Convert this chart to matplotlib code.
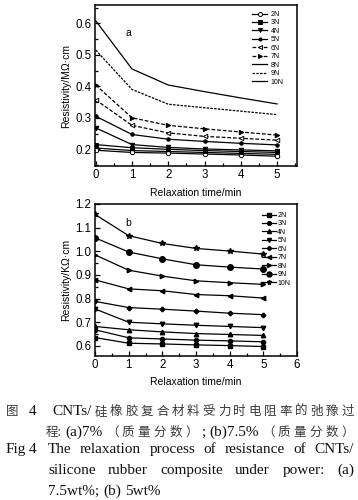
import matplotlib
matplotlib.use("Agg")
import matplotlib.pyplot as plt
from matplotlib.ticker import MultipleLocator

W, H = 358, 500
plt.rcParams['font.family'] = ['Liberation Sans', 'DejaVu Sans']

# ---------------- data ----------------
time = [0, 1, 2, 3, 4, 5]
labels = ['2N', '3N', '4N', '5N', '6N', '7N', '8N', '9N', '10N']

a_2N = [0.197, 0.190, 0.188, 0.185, 0.182, 0.178]
a_3N = [0.215, 0.205, 0.200, 0.196, 0.193, 0.190]
a_4N = [0.268, 0.215, 0.206, 0.201, 0.198, 0.195]
a_5N = [0.305, 0.247, 0.232, 0.225, 0.219, 0.214]
a_6N = [0.357, 0.276, 0.252, 0.241, 0.235, 0.229]
a_7N = [0.404, 0.300, 0.276, 0.265, 0.255, 0.245]
a_8N = [0.204, 0.196, 0.193, 0.190, 0.187, 0.184]
a_9N = [0.515, 0.390, 0.343, 0.332, 0.321, 0.310]
a_10N = [0.608, 0.455, 0.404, 0.383, 0.363, 0.344]

b_2N = [0.635, 0.611, 0.608, 0.604, 0.601, 0.597]
b_3N = [0.668, 0.634, 0.629, 0.624, 0.621, 0.617]
b_4N = [0.682, 0.668, 0.659, 0.652, 0.648, 0.644]
b_5N = [0.756, 0.700, 0.693, 0.687, 0.682, 0.677]
b_6N = [0.788, 0.762, 0.755, 0.747, 0.738, 0.732]
b_7N = [0.879, 0.841, 0.833, 0.817, 0.812, 0.802]
b_8N = [0.985, 0.920, 0.895, 0.875, 0.867, 0.860]
b_9N = [1.057, 0.997, 0.968, 0.943, 0.933, 0.925]
b_10N = [1.156, 1.066, 1.033, 1.012, 1.001, 0.988]

a_series = [a_2N, a_3N, a_4N, a_5N, a_6N, a_7N, a_8N, a_9N, a_10N]
b_series = [b_2N, b_3N, b_4N, b_5N, b_6N, b_7N, b_8N, b_9N, b_10N]

# ---------------- styles ----------------
a_styles = [
    dict(marker='o', mfc='white', ls='-'),
    dict(marker='s', mfc='black', ls='-'),
    dict(marker='v', mfc='black', ls='-'),
    dict(marker='o', mfc='black', ls='-', ms=2.5),
    dict(marker='<', mfc='white', ls=(0, (3, 1.5))),
    dict(marker='>', mfc='black', ls=(0, (3, 1.5))),
    dict(marker='None', ls='-'),
    dict(marker='None', ls=(0, (2, 1))),
    dict(marker='None', ls='-'),
]
b_markers = ['s', 'o', '^', 'v', 'P', '<', '>', 'o', '*']
b_sizes = [3, 3, 3.2, 3.2, 3, 3.2, 3.2, 4, 4]

fig = plt.figure(figsize=(W / 100, H / 100), dpi=100)


def fx(px):
    return px / W


def fy(py):
    return 1 - py / H


def style_axes(ax):
    for s in ax.spines.values():
        s.set_linewidth(1.1)
    ax.tick_params(which='both', direction='in', top=False, right=False,
                   labelsize=8.3, width=0.9, pad=2.5)
    ax.tick_params(which='major', length=3.5)
    ax.tick_params(which='minor', length=2)
    ax.xaxis.set_minor_locator(MultipleLocator(0.5))
    ax.yaxis.set_minor_locator(MultipleLocator(0.05))
    ax.yaxis.set_major_locator(MultipleLocator(0.1))


# ---------------- panel a ----------------
axa = fig.add_axes([fx(95), fy(166), fx(297) - fx(95), fy(5) - fy(166)])
for ys, st, lab in zip(a_series, a_styles, labels):
    kw = dict(color='black', lw=0.9, mec='black', mew=0.7, ms=st.get('ms', 3.2))
    axa.plot(time, ys, marker=st['marker'], mfc=st.get('mfc', 'black'),
             linestyle=st['ls'], label=lab, **kw)
axa.set_xlim(-0.02, 5.55)
axa.set_ylim(0.147, 0.658)
axa.set_xticks(time)
style_axes(axa)
axa.set_xlabel('Relaxation time/min', fontsize=7.5, labelpad=5)
axa.set_ylabel('Resistivity/MΩ·cm', fontsize=7.5, labelpad=3)
axa.text(0.89, 0.569, 'a', fontsize=7.5, ha='center', va='center')
axa.legend(loc='upper left', bbox_to_anchor=(fx(252), fy(11)),
           bbox_transform=fig.transFigure, frameon=False, fontsize=5,
           borderpad=0, borderaxespad=0, labelspacing=0.21,
           handlelength=2.2, handletextpad=0.5, markerscale=0.9)

# ---------------- panel b ----------------
axb = fig.add_axes([fx(95), fy(356), fx(297) - fx(95), fy(204) - fy(356)])
for ys, m, ms, lab in zip(b_series, b_markers, b_sizes, labels):
    axb.plot(time, ys, marker=m, ms=ms, color='black', mfc='black', mec='black',
             lw=0.9, label=lab)
axb.set_xlim(0, 6)
axb.set_ylim(0.557, 1.2)
axb.set_xticks([0, 1, 2, 3, 4, 5, 6])
style_axes(axb)
axb.set_xlabel('Relaxation time/min', fontsize=7.5, labelpad=4)
axb.set_ylabel('Resistivity/KΩ·cm', fontsize=7.5, labelpad=3)
axb.text(0.99, 1.12, 'b', fontsize=7.5, ha='center', va='center')
axb.legend(loc='upper left', bbox_to_anchor=(fx(262), fy(212)),
           bbox_transform=fig.transFigure, frameon=False, fontsize=5,
           borderpad=0, borderaxespad=0, labelspacing=0.21,
           handlelength=2.0, handletextpad=0.2, markerscale=0.9)

# ---------------- caption ----------------
latin_font = dict(fontsize=11, family=['Liberation Serif', 'DejaVu Serif'],
                  color='#111111')
cjk_font = dict(fontsize=9, family=['Noto Sans CJK SC', 'Liberation Serif'],
                color='#3a3a3a')

fig.canvas.draw()
renderer = fig.canvas.get_renderer()


def place(tokens, x0, x1, y, justify=True, gap=None):
    texts = []
    for t in tokens:
        is_cjk = any(ord(c) > 0x2E80 for c in t)
        font = cjk_font if is_cjk else latin_font
        texts.append(fig.text(0, fy(y), t, ha='left', va='baseline', **font))
    widths = [t.get_window_extent(renderer).width for t in texts]
    if justify and len(tokens) > 1:
        g = (x1 - x0 - sum(widths)) / (len(tokens) - 1)
    else:
        g = gap
    x = x0
    for t, w in zip(texts, widths):
        t.set_x(fx(x))
        x += w + g


place(['图'], 6, 6, 415, justify=False, gap=0)
place(['4'], 29, 29, 415, justify=False, gap=0)
line1 = ['CNTs/'] + list('硅橡胶复合材料受力时电阻率的弛豫过')
place(line1, 52, 354, 415)
line2 = ['程:', '(a)7%', '（', '质', '量', '分', '数', '）', ';', '(b)7.5%',
         '（', '质', '量', '分', '数', '）']
place(line2, 46, 354, 436)
place(['Fig'], 6, 6, 453, justify=False, gap=0)
place(['4'], 29, 29, 453, justify=False, gap=0)
line3 = 'The relaxation process of resistance of CNTs/'.split()
place(line3, 48, 354, 453)
line4 = 'silicone rubber composite under power: (a)'.split()
place(line4, 48, 354, 474)
line5 = '7.5wt%; (b) 5wt%'.split()
place(line5, 48, 354, 495, justify=False, gap=4)

fig.savefig('out.png', dpi=100)
